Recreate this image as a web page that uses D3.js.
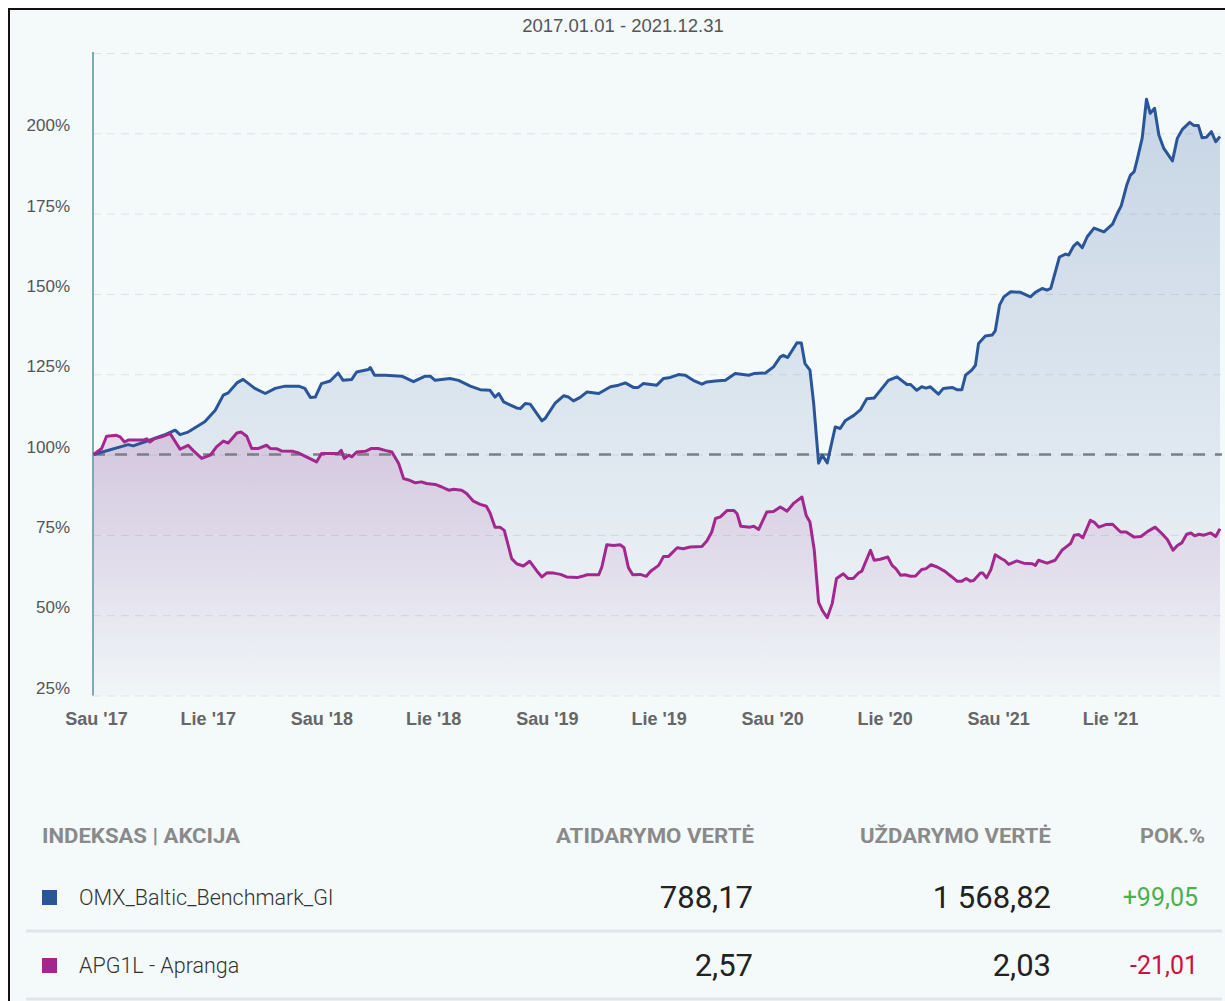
<!doctype html>
<html>
<head>
<meta charset="utf-8">
<title>OMX Baltic vs Apranga</title>
<style>
  body { margin: 0; background: #fff; }
  svg text { font-family: "Liberation Sans", Arial, sans-serif; }
  .grid line { stroke: #dde2ea; stroke-width: 1; stroke-dasharray: 8,6; }
  .grid path, .axis path { display: none; }
  .y-axis text { font-size: 17px; fill: #555; }
  .x-axis text { font-size: 18px; font-weight: bold; fill: #666; }
  .tbl text { font-family: Roboto, "Noto Sans", sans-serif; }
  .tbl .head { font-size: 21px; font-weight: bold; fill: #8a8a8a; }
  .tbl .name { font-size: 21.5px; font-weight: 300; fill: #333; }
  .tbl .num { font-size: 31px; fill: #222; }
  .tbl .chg { font-size: 25px; }
</style>
</head>
<body>
<svg id="chart" width="1225" height="1001"></svg>

<script src="https://cdnjs.cloudflare.com/ajax/libs/d3/7.8.5/d3.min.js"></script>
<script>

// OMX Baltic Benchmark GI, % of the value on 2017.01.01
var omxDates = [
  "2017-01-02","2017-02-27","2017-03-07","2017-04-06","2017-04-25","2017-05-14","2017-05-22","2017-06-04",
  "2017-07-01","2017-07-18","2017-07-31","2017-08-08","2017-08-22","2017-09-01","2017-09-20","2017-10-07",
  "2017-10-23","2017-11-08","2017-11-30","2017-12-10","2017-12-19","2017-12-27","2018-01-06","2018-01-20",
  "2018-02-02","2018-02-10","2018-02-24","2018-03-04","2018-03-23","2018-03-26","2018-04-02","2018-04-19",
  "2018-05-16","2018-06-04","2018-06-23","2018-07-01","2018-07-09","2018-08-02","2018-08-16","2018-09-04",
  "2018-09-20","2018-10-06","2018-10-14","2018-10-20","2018-10-28","2018-11-08","2018-11-18","2018-11-24",
  "2018-12-02","2018-12-10","2018-12-29","2019-01-03","2019-01-19","2019-02-02","2019-02-10","2019-02-18",
  "2019-03-01","2019-03-12","2019-03-31","2019-04-19","2019-05-02","2019-05-13","2019-05-26","2019-06-03",
  "2019-06-11","2019-07-03","2019-07-14","2019-07-25","2019-08-07","2019-08-18","2019-08-31","2019-09-14",
  "2019-09-22","2019-10-06","2019-10-22","2019-11-07","2019-11-29","2019-12-07","2019-12-26","2020-01-08",
  "2020-01-19","2020-01-24","2020-01-31","2020-02-15","2020-02-22","2020-02-28","2020-03-07","2020-03-13",
  "2020-03-21","2020-03-27","2020-04-04","2020-04-17","2020-04-25","2020-05-03","2020-05-17","2020-05-28",
  "2020-06-07","2020-06-19","2020-06-29","2020-07-12","2020-07-26","2020-08-11","2020-08-17","2020-08-27",
  "2020-09-04","2020-09-11","2020-09-18","2020-10-01","2020-10-09","2020-10-23","2020-10-31","2020-11-08",
  "2020-11-14","2020-11-24","2020-11-30","2020-12-05","2020-12-16","2020-12-27","2021-01-01","2021-01-08",
  "2021-01-15","2021-01-26","2021-02-11","2021-02-27","2021-03-07","2021-03-18","2021-03-26","2021-04-01",
  "2021-04-15","2021-04-25","2021-04-30","2021-05-08","2021-05-14","2021-05-22","2021-05-30","2021-06-10",
  "2021-06-26","2021-07-10","2021-07-18","2021-07-24","2021-08-02","2021-08-08","2021-08-14","2021-08-19",
  "2021-08-27","2021-09-03","2021-09-09","2021-09-16","2021-09-23","2021-10-01","2021-10-15","2021-10-23",
  "2021-10-31","2021-11-12","2021-11-19","2021-11-26","2021-12-02","2021-12-09","2021-12-17","2021-12-24",
  "2021-12-31"
];
var omxValues = [
  100, 103.1, 102.7, 104.7, 106, 107.6, 106.2, 107,
  110.2, 113.8, 118.5, 119.2, 122.3, 123.4, 120.6, 119,
  120.6, 121.3, 121.3, 120.6, 117.8, 117.9, 122.1, 122.9,
  125.4, 123.1, 123.4, 125.7, 126.5, 127.1, 124.7, 124.7,
  124.4, 122.7, 124.4, 124.4, 123.1, 123.7, 123.1, 121.3,
  120.2, 120, 117.9, 119, 116.4, 115.4, 114.5, 114.3,
  115.9, 115.7, 110.5, 111.2, 115.9, 118.3, 117.9, 116.7,
  117.8, 119.5, 119, 121.1, 121.6, 122.3, 120.9, 120.9,
  122.1, 121.6, 123.7, 124, 124.9, 124.7, 123.1, 121.9,
  122.6, 122.9, 123.1, 125.2, 124.7, 125.2, 125.4, 127.3,
  130.4, 130.9, 130.2, 134.8, 134.7, 128.3, 126.3, 115.9,
  97.3, 99.8, 97.4, 108.6, 108.1, 110.5, 112.2, 114,
  117.4, 117.6, 120, 123.1, 124.2, 121.8, 121.8, 120,
  121.1, 120.7, 121.1, 118.8, 120.6, 120.9, 120.2, 120.2,
  124.7, 126.3, 127.8, 134.6, 136.9, 137.2, 138.5, 146.5,
  149.1, 150.7, 150.5, 149.1, 150.5, 151.7, 151.2, 151.7,
  161.5, 162.4, 162.1, 164.9, 166, 164.4, 167.8, 170.5,
  169.3, 171.7, 175.2, 177.4, 183.9, 187, 188.1, 191.9,
  198.5, 210.6, 206.2, 207.8, 199.5, 195.3, 191.4, 198.5,
  201.2, 203.4, 202.4, 202.4, 198.6, 198.8, 200.5, 197.4,
  199
];

// APG1L - Apranga, % of the value on 2017.01.01
var apgDates = [
  "2017-01-02","2017-01-15","2017-01-23","2017-02-08","2017-02-14","2017-02-21","2017-02-27","2017-03-23",
  "2017-03-29","2017-04-03","2017-04-11","2017-04-22","2017-05-06","2017-05-11","2017-05-22","2017-05-30",
  "2017-06-04","2017-06-12","2017-06-26","2017-07-10","2017-07-20","2017-07-31","2017-08-08","2017-08-22",
  "2017-08-29","2017-09-07","2017-09-15","2017-09-26","2017-10-09","2017-10-15","2017-10-26","2017-11-03",
  "2017-11-21","2017-11-30","2017-12-10","2017-12-29","2018-01-06","2018-02-02","2018-02-07","2018-02-12",
  "2018-02-19","2018-02-24","2018-03-04","2018-03-18","2018-03-28","2018-04-08","2018-04-19","2018-04-30",
  "2018-05-11","2018-05-19","2018-05-27","2018-06-07","2018-06-17","2018-06-25","2018-07-09","2018-07-20",
  "2018-07-31","2018-08-08","2018-08-21","2018-08-29","2018-09-09","2018-09-20","2018-09-30","2018-10-06",
  "2018-10-14","2018-10-22","2018-10-29","2018-11-10","2018-11-18","2018-11-29","2018-12-09","2018-12-21",
  "2018-12-29","2019-01-06","2019-01-17","2019-01-28","2019-02-07","2019-02-24","2019-03-04","2019-03-12",
  "2019-03-31","2019-04-05","2019-04-13","2019-04-24","2019-05-05","2019-05-11","2019-05-18","2019-05-25",
  "2019-06-06","2019-06-16","2019-06-23","2019-07-06","2019-07-14","2019-07-22","2019-08-05","2019-08-15",
  "2019-08-26","2019-09-14","2019-09-22","2019-09-30","2019-10-06","2019-10-14","2019-10-25","2019-11-05",
  "2019-11-10","2019-11-16","2019-12-01","2019-12-07","2019-12-15","2019-12-28","2020-01-08","2020-01-19",
  "2020-01-30","2020-02-10","2020-02-23","2020-03-01","2020-03-07","2020-03-14","2020-03-21","2020-03-27",
  "2020-04-04","2020-04-12","2020-04-19","2020-04-30","2020-05-08","2020-05-16","2020-05-25","2020-05-30",
  "2020-06-13","2020-06-19","2020-06-29","2020-07-11","2020-07-18","2020-07-24","2020-08-01","2020-08-08",
  "2020-08-17","2020-08-25","2020-09-04","2020-09-11","2020-09-19","2020-09-29","2020-10-11","2020-10-23",
  "2020-10-31","2020-11-08","2020-11-15","2020-11-22","2020-11-27","2020-12-08","2020-12-12","2020-12-18",
  "2020-12-25","2021-01-01","2021-01-12","2021-01-16","2021-01-23","2021-02-05","2021-02-16","2021-03-02",
  "2021-03-07","2021-03-12","2021-03-26","2021-04-08","2021-04-19","2021-04-27","2021-05-03","2021-05-09",
  "2021-05-16","2021-05-23","2021-06-04","2021-06-10","2021-06-18","2021-06-29","2021-07-10","2021-07-23",
  "2021-08-01","2021-08-14","2021-08-25","2021-09-05","2021-09-17","2021-09-29","2021-10-07","2021-10-16",
  "2021-10-23","2021-10-30","2021-11-07","2021-11-14","2021-11-20","2021-11-27","2021-12-05","2021-12-16",
  "2021-12-24","2021-12-31"
];
var apgValues = [
  100, 101.9, 105.7, 106, 105.5, 103.9, 104.5, 104.5,
  104.9, 103.9, 105, 105.5, 106.5, 105, 101.7, 102.4,
  102.9, 101.3, 98.8, 99.8, 102.4, 104.2, 103.6, 106.7,
  107, 105.7, 101.9, 101.9, 102.9, 101.9, 101.8, 101.1,
  101, 100.5, 99.5, 97.7, 100.3, 100.3, 101.3, 98.8,
  99.8, 99.3, 100.8, 101, 101.9, 101.9, 101.3, 100.8,
  97.2, 92.5, 92.1, 91.2, 91.5, 91, 90.7, 89.9,
  88.9, 89.2, 88.9, 87.9, 85.5, 84.5, 83.9, 81.8,
  77.4, 77.4, 76.4, 67.6, 66, 65.3, 66.8, 63.7,
  61.9, 63.2, 63.1, 62.7, 61.9, 61.7, 62.1, 62.6,
  62.6, 65, 71.9, 71.7, 71.9, 71, 64.8, 62.6,
  62.7, 62.1, 63.7, 65.5, 68.3, 68.3, 71, 70.7,
  71.2, 71.4, 73.1, 75.9, 80.1, 80.6, 82.6, 82.6,
  81.6, 77.7, 77.4, 77.7, 76.7, 82.1, 82.3, 83.7,
  82.4, 84.9, 86.8, 81, 79, 70.2, 54, 51.5,
  49.2, 53.6, 61.4, 62.9, 61.4, 61.4, 63.2, 63.7,
  70.2, 67.1, 67.4, 68.1, 65.5, 64.5, 62.4, 62.6,
  62.1, 62.2, 64.2, 64.5, 65.7, 65, 63.7, 61.9,
  60.6, 60.6, 61.4, 60.6, 60.8, 63.1, 63.1, 61.6,
  64.2, 68.8, 67.5, 67.1, 65.8, 66.9, 66.2, 66,
  65.5, 67.1, 66.2, 67.1, 70.2, 71.4, 72.3, 74.9,
  75.1, 74.1, 79.5, 79, 77.4, 78.2, 78.3, 75.9,
  75.9, 74.3, 74.5, 76.1, 77.4, 75.2, 73.5, 70.2,
  71.7, 72.5, 75.2, 75.6, 74.7, 75.2, 74.9, 75.6,
  74.5, 76.9
];

var seriesColors = ["#2a5699", "#a3288e"];
var periodLabel = "2017.01.01 - 2021.12.31";
var periodStart = "2017-01-01", periodEnd = "2021-12-31";

var yTicks = [25, 50, 75, 100, 125, 150, 175, 200, 225];
var yLabelTicks = [25, 50, 75, 100, 125, 150, 175, 200];
var xTickDates = ["2017-01-01","2017-07-01","2018-01-01","2018-07-01","2019-01-01",
                  "2019-07-01","2020-01-01","2020-07-01","2021-01-01","2021-07-01"];
var xTickLabels = ["Sau '17","Lie '17","Sau '18","Lie '18","Sau '19",
                   "Lie '19","Sau '20","Lie '20","Sau '21","Lie '21"];

var tableHeader = ["INDEKSAS | AKCIJA", "ATIDARYMO VERTĖ", "UŽDARYMO VERTĖ", "POK.%"];
var tableNames = ["OMX_Baltic_Benchmark_GI", "APG1L - Apranga"];
var tableOpen = ["788,17", "2,57"];
var tableClose = ["1 568,82", "2,03"];
var tableChange = ["+99,05", "-21,01"];

var parse = d3.utcParse("%Y-%m-%d");
var plotLeft = 93, plotRight = 1220, plotTop = 53, plotBottom = 695.5;

var svg = d3.select("#chart");

// panel background and frame
svg.append("rect")
  .attr("x", 9).attr("y", 9)
  .attr("width", 1300).attr("height", 1100)
  .attr("fill", "#f4f9fa")
  .attr("stroke", "#111").attr("stroke-width", 2);

var x = d3.scaleUtc()
  .domain([parse(periodStart), parse(periodEnd)])
  .range([plotLeft, plotRight]);

var y = d3.scaleLinear()
  .domain([25, 225])
  .range([plotBottom, plotTop]);

var defs = svg.append("defs");

var gBlue = defs.append("linearGradient")
  .attr("id", "fillBlue").attr("gradientUnits", "userSpaceOnUse")
  .attr("x1", 0).attr("x2", 0).attr("y1", plotTop).attr("y2", plotBottom);
gBlue.append("stop").attr("offset", 0).attr("stop-color", seriesColors[0]).attr("stop-opacity", 0.24);
gBlue.append("stop").attr("offset", 1).attr("stop-color", seriesColors[0]).attr("stop-opacity", 0.02);

var gPurple = defs.append("linearGradient")
  .attr("id", "fillPurple").attr("gradientUnits", "userSpaceOnUse")
  .attr("x1", 0).attr("x2", 0).attr("y1", y(d3.max(apgValues))).attr("y2", plotBottom);
gPurple.append("stop").attr("offset", 0).attr("stop-color", seriesColors[1]).attr("stop-opacity", 0.17);
gPurple.append("stop").attr("offset", 1).attr("stop-color", seriesColors[1]).attr("stop-opacity", 0.0);

// title
svg.append("text")
  .attr("x", 623).attr("y", 32)
  .attr("text-anchor", "middle")
  .attr("font-size", "18.5px")
  .attr("fill", "#555")
  .text(periodLabel);

// grid
svg.append("g")
  .attr("class", "grid")
  .attr("transform", "translate(" + plotLeft + ",0)")
  .call(d3.axisLeft(y).tickValues(yTicks).tickSize(-(1222 - plotLeft)).tickFormat(""));

// y labels
var yAxis = svg.append("g")
  .attr("class", "axis y-axis")
  .attr("transform", "translate(" + plotLeft + ",0)")
  .call(d3.axisLeft(y).tickValues(yLabelTicks).tickSize(0).tickPadding(23)
    .tickFormat(function(d) { return d + "%"; }));
yAxis.selectAll("text").attr("dy", 0).attr("y", -2.5);

// x labels
var xAxis = svg.append("g")
  .attr("class", "axis x-axis")
  .attr("transform", "translate(0," + plotBottom + ")")
  .call(d3.axisBottom(x).tickValues(xTickDates.map(parse)).tickSize(0)
    .tickFormat(function(d, i) { return xTickLabels[i]; }));
xAxis.selectAll("text").attr("dy", 0).attr("y", 29).attr("dx", 3);

function rows(dates, values) {
  return dates.map(function(d, i) { return { date: parse(d), value: values[i] }; });
}
var omx = rows(omxDates, omxValues);
var apg = rows(apgDates, apgValues);

var area = d3.area()
  .x(function(d) { return x(d.date); })
  .y0(plotBottom)
  .y1(function(d) { return y(d.value); });

var line = d3.line()
  .x(function(d) { return x(d.date); })
  .y(function(d) { return y(d.value); });

svg.append("path").datum(omx).attr("d", area).attr("fill", "url(#fillBlue)");
svg.append("path").datum(apg).attr("d", area).attr("fill", "url(#fillPurple)");

// 100% baseline
svg.append("line")
  .attr("x1", plotLeft).attr("x2", 1222)
  .attr("y1", y(100)).attr("y2", y(100))
  .attr("stroke", "#7b7f88").attr("stroke-width", 2.5)
  .attr("stroke-dasharray", "12,10");

// y axis line
svg.append("line")
  .attr("x1", plotLeft).attr("x2", plotLeft)
  .attr("y1", plotTop - 1).attr("y2", plotBottom)
  .attr("stroke", "#5b8f9b").attr("stroke-width", 1.5);

svg.append("path").datum(omx).attr("d", line)
  .attr("fill", "none").attr("stroke", seriesColors[0])
  .attr("stroke-width", 3).attr("stroke-linejoin", "round");
svg.append("path").datum(apg).attr("d", line)
  .attr("fill", "none").attr("stroke", seriesColors[1])
  .attr("stroke-width", 3).attr("stroke-linejoin", "round");

// summary table
var tbl = svg.append("g").attr("class", "tbl");
var colRight = [null, 754, 1051, 1205];
var headWidth = [198, 198, 191, 65];

tbl.selectAll("text.head")
  .data(tableHeader)
  .enter().append("text")
  .attr("class", "head")
  .attr("x", function(d, i) { return i === 0 ? 42 : colRight[i]; })
  .attr("y", 843)
  .attr("text-anchor", function(d, i) { return i === 0 ? "start" : "end"; })
  .attr("textLength", function(d, i) { return headWidth[i]; })
  .attr("lengthAdjust", "spacingAndGlyphs")
  .text(function(d) { return d; });

var rowY = [897, 965];
var changeColors = ["#4caf50", "#d0103a"];

var row = tbl.selectAll("g.row")
  .data(tableNames)
  .enter().append("g")
  .attr("class", "row")
  .attr("transform", function(d, i) { return "translate(0," + rowY[i] + ")"; });

row.append("rect")
  .attr("x", 42).attr("y", -7)
  .attr("width", 15).attr("height", 15)
  .attr("fill", function(d, i) { return seriesColors[i]; });

row.append("text").attr("class", "name")
  .attr("x", 79).attr("y", 7.5)
  .text(function(d) { return d; });

row.append("text").attr("class", "num")
  .attr("x", 753).attr("y", 11).attr("text-anchor", "end")
  .text(function(d, i) { return tableOpen[i]; });

row.append("text").attr("class", "num")
  .attr("x", 1051).attr("y", 11).attr("text-anchor", "end")
  .text(function(d, i) { return tableClose[i]; });

row.append("text").attr("class", "chg")
  .attr("x", 1198).attr("y", 9).attr("text-anchor", "end")
  .attr("fill", function(d, i) { return changeColors[i]; })
  .text(function(d, i) { return tableChange[i]; });

row.append("line")
  .attr("x1", 26).attr("x2", 1222)
  .attr("y1", 34).attr("y2", 34)
  .attr("stroke", "#e1e5ea").attr("stroke-width", 3);

</script>
</body>
</html>
